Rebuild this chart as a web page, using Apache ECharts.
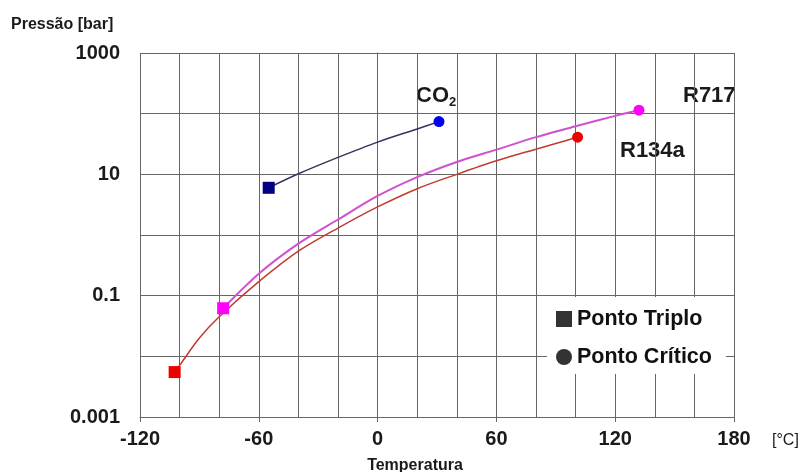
<!DOCTYPE html>
<html>
<head>
<meta charset="utf-8">
<script src="https://cdn.jsdelivr.net/npm/echarts@6/dist/echarts.min.js"></script>
<style>
  html, body { margin: 0; padding: 0; background: #fff; }
  #chart { width: 806px; height: 472px; }
</style>
</head>
<body>
<div id="chart"></div>
<script>
// curvas de saturação (temperatura em °C, pressão em bar)
const co2T = [-55, -40, -20, 0, 20, 31]
const co2P = [6.0, 10.2, 19, 34, 56, 74]

const r134aT = [-102.5, -100, -90, -80, -60, -40, -20, 0, 20, 40, 60, 80, 101]
const r134aP = [0.0055, 0.0071, 0.02, 0.045, 0.17, 0.54, 1.3, 2.9, 5.8, 10, 16.7, 26, 41]

const r717T = [-78, -60, -40, -20, 0, 20, 40, 60, 80, 100, 120, 132]
const r717P = [0.062, 0.23, 0.72, 1.8, 4.4, 9, 16, 25.5, 41, 62, 92, 114]

// rótulos do eixo y (um por década, só metade é escrita)
const yTickLabels = ['0.001', '', '0.1', '', '10', '', '1000']
const legendNames = ['Ponto Triplo', 'Ponto Crítico']

const FONT = 'Liberation Sans, Arial, sans-serif'

// primeiro ponto = ponto triplo (quadrado), último = ponto crítico (círculo)
const buildData = (temps, press) => temps.map((t, i) => {
  let symbol = 'none'
  if (i === 0) symbol = 'rect'
  else if (i === temps.length - 1) symbol = 'circle'
  return { value: [t, press[i]], symbol: symbol, symbolSize: symbol === 'rect' ? 12 : 11 }
})

const curve = (name, temps, press, lineColor, squareColor, circleColor, width) => ({
  name: name,
  type: 'line',
  smooth: 0.3,
  showSymbol: true,
  data: buildData(temps, press).map((d, i) => {
    if (i === 0) d.itemStyle = { color: squareColor }
    if (i === temps.length - 1) d.itemStyle = { color: circleColor }
    return d
  }),
  lineStyle: { color: lineColor, width: width },
  z: 3
})

const chart = echarts.init(document.getElementById('chart'))

const option = {
  animation: false,
  backgroundColor: '#fff',
  textStyle: { fontFamily: FONT },
  grid: {
    left: 140,
    right: 72,
    top: 53,
    bottom: 55,
    containLabel: false,
    outerBoundsMode: 'none'
  },
  legend: {
    data: [
      { name: legendNames[0], icon: 'rect' },
      { name: legendNames[1], icon: 'circle' }
    ],
    orient: 'vertical',
    left: 547,
    top: 297,
    padding: [11, 14, 6, 9],
    itemGap: 16,
    itemWidth: 16,
    itemHeight: 16,
    backgroundColor: '#fff',
    selectedMode: false,
    textStyle: { color: '#111', fontSize: 21.5, fontWeight: 'bold', fontFamily: FONT }
  },
  xAxis: {
    type: 'value',
    min: -120,
    max: 180,
    interval: 60,
    axisLine: { show: true, lineStyle: { color: '#666', width: 1 } },
    axisTick: { show: true, length: 5, lineStyle: { color: '#666' } },
    minorTick: { show: false, splitNumber: 3 },
    splitLine: { show: true, lineStyle: { color: '#666', width: 1 } },
    minorSplitLine: { show: true, lineStyle: { color: '#666', width: 1 } },
    axisLabel: {
      color: '#1a1a1a',
      fontSize: 20,
      fontWeight: 'bold',
      fontFamily: FONT,
      margin: 12
    }
  },
  yAxis: {
    type: 'log',
    logBase: 10,
    min: 0.001,
    max: 1000,
    splitNumber: 6,
    axisLine: { show: true, lineStyle: { color: '#666', width: 1 } },
    axisTick: { show: true, length: 5, lineStyle: { color: '#666' } },
    splitLine: { show: true, lineStyle: { color: '#666', width: 1 } },
    axisLabel: {
      color: '#1a1a1a',
      fontSize: 20,
      fontWeight: 'bold',
      fontFamily: FONT,
      margin: 20,
      formatter: (v) => {
        const idx = Math.round(Math.log10(v)) + 3
        return yTickLabels[idx] || ''
      }
    }
  },
  graphic: [
    {
      type: 'text',
      x: 11, y: 25,
      style: { text: 'Pressão [bar]', font: 'bold 16px ' + FONT, fill: '#1a1a1a', textVerticalAlign: 'middle' }
    },
    {
      type: 'text',
      x: 416, y: 96,
      style: {
        text: 'CO{sub|2}',
        font: 'bold 22px ' + FONT,
        fill: '#1a1a1a',
        textVerticalAlign: 'middle',
        rich: { sub: { font: 'bold 13px ' + FONT, fill: '#1a1a1a', padding: [12, 0, 0, 0] } }
      }
    },
    {
      type: 'text',
      x: 683, y: 96,
      style: { text: 'R717', font: 'bold 22px ' + FONT, fill: '#1a1a1a', textVerticalAlign: 'middle' }
    },
    {
      type: 'text',
      x: 620, y: 151,
      style: { text: 'R134a', font: 'bold 22px ' + FONT, fill: '#1a1a1a', textVerticalAlign: 'middle' }
    },
    {
      type: 'text',
      x: 415, y: 466,
      style: { text: 'Temperatura', font: 'bold 16px ' + FONT, fill: '#1a1a1a', textAlign: 'center', textVerticalAlign: 'middle' }
    },
    {
      type: 'text',
      x: 772, y: 441,
      style: { text: '[°C]', font: '16px ' + FONT, fill: '#1a1a1a', textVerticalAlign: 'middle' }
    }
  ],
  series: [
    curve('CO2', co2T, co2P, '#34345e', '#000080', '#0000ee', 1.5),
    curve('R134a', r134aT, r134aP, '#c23a30', '#ee0000', '#ee0000', 1.5),
    curve('R717', r717T, r717P, '#d050d0', '#ff00ff', '#ff00ff', 2),
    // séries vazias só para a legenda
    { name: legendNames[0], type: 'scatter', symbol: 'rect', data: [], itemStyle: { color: '#000' } },
    { name: legendNames[1], type: 'scatter', symbol: 'circle', data: [], itemStyle: { color: '#000' } }
  ]
}

chart.setOption(option)
</script>
</body>
</html>
